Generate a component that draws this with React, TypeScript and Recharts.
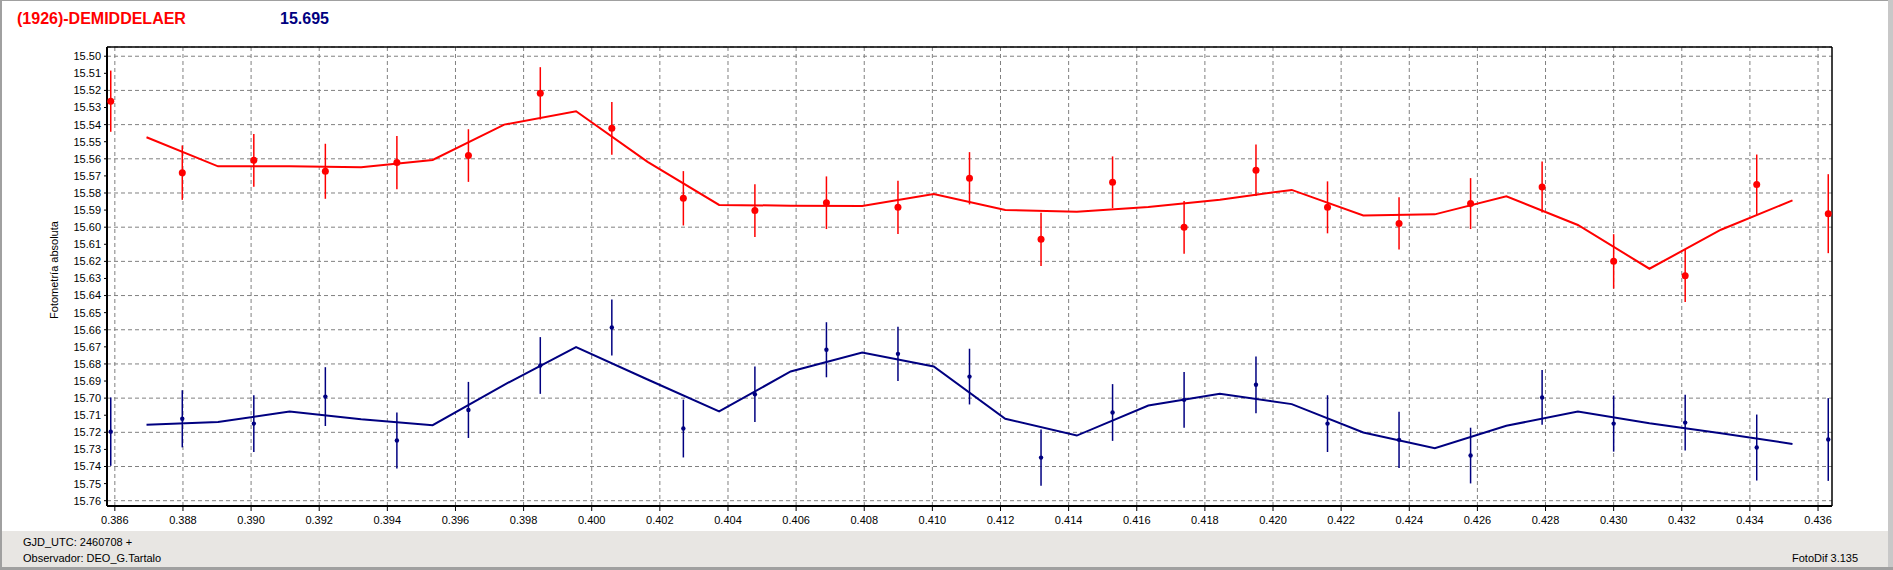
import React from 'react';
import {
  ComposedChart, XAxis, YAxis, CartesianGrid, Line, Scatter, ErrorBar, ReferenceLine,
} from 'recharts';

// ---- data ----
const pointX = [
  0.38588, 0.38798, 0.39008, 0.39218, 0.39428, 0.39638, 0.39849, 0.40059, 0.40269,
  0.40479, 0.40689, 0.40899, 0.41109, 0.41319, 0.41529, 0.41739, 0.41950, 0.42160,
  0.42370, 0.42580, 0.42790, 0.43000, 0.43210, 0.43420, 0.43630,
];
const redY = [
  15.5263, 15.5681, 15.5609, 15.5673, 15.5622, 15.5581, 15.5217, 15.5422, 15.5831,
  15.5903, 15.5857, 15.5884, 15.5714, 15.6071, 15.5737, 15.6001, 15.5667, 15.5884,
  15.5978, 15.5862, 15.5765, 15.6200, 15.6284, 15.5751, 15.5921,
];
const redErr = [
  0.0179, 0.0159, 0.0154, 0.0161, 0.0156, 0.0154, 0.0153, 0.0154, 0.0159,
  0.0154, 0.0154, 0.0156, 0.0153, 0.0156, 0.0151, 0.0154, 0.0151, 0.0152,
  0.0153, 0.0149, 0.0149, 0.0159, 0.0154, 0.0176, 0.0231,
];
const blueY = [
  15.7196, 15.7121, 15.7149, 15.6991, 15.7248, 15.7069, 15.6809, 15.6587, 15.7178,
  15.6977, 15.6717, 15.6741, 15.6874, 15.7348, 15.7084, 15.7010, 15.6922, 15.7149,
  15.7244, 15.7336, 15.6996, 15.7149, 15.7143, 15.7289, 15.7242,
];
const blueErr = [
  0.0200, 0.0167, 0.0166, 0.0172, 0.0164, 0.0164, 0.0166, 0.0164, 0.0169,
  0.0162, 0.0161, 0.0159, 0.0163, 0.0164, 0.0166, 0.0163, 0.0166, 0.0166,
  0.0164, 0.0163, 0.0160, 0.0164, 0.0163, 0.0193, 0.0242,
];
const curveX = [
  0.38693, 0.38903, 0.39113, 0.39323, 0.39533, 0.39743, 0.39954, 0.40164,
  0.40374, 0.40584, 0.40794, 0.41004, 0.41214, 0.41424, 0.41634, 0.41844,
  0.42055, 0.42265, 0.42475, 0.42685, 0.42895, 0.43105, 0.43315, 0.43525,
];
const redCurve = [
  15.5474, 15.5644, 15.5644, 15.5650, 15.5607, 15.5400, 15.5322, 15.5618,
  15.5870, 15.5874, 15.5876, 15.5806, 15.5899, 15.5909, 15.5882, 15.5839,
  15.5782, 15.5931, 15.5925, 15.5819, 15.5987, 15.6243, 15.6015, 15.5843,
];
const blueCurve = [
  15.7155, 15.7140, 15.7078, 15.7123, 15.7158, 15.6922, 15.6701, 15.6891,
  15.7078, 15.6844, 15.6733, 15.6815, 15.7121, 15.7219, 15.7043, 15.6975,
  15.7035, 15.7201, 15.7293, 15.7162, 15.7078, 15.7147, 15.7205, 15.7268,
];
const yTicks = [
  15.50, 15.51, 15.52, 15.53, 15.54, 15.55, 15.56, 15.57, 15.58, 15.59, 15.60,
  15.61, 15.62, 15.63, 15.64, 15.65, 15.66, 15.67, 15.68, 15.69, 15.70, 15.71,
  15.72, 15.73, 15.74, 15.75, 15.76,
];
const xTicks = [
  0.386, 0.388, 0.390, 0.392, 0.394, 0.396, 0.398, 0.400, 0.402, 0.404, 0.406,
  0.408, 0.410, 0.412, 0.414, 0.416, 0.418, 0.420, 0.422, 0.424, 0.426, 0.428,
  0.430, 0.432, 0.434, 0.436,
];
const xDomain: [number, number] = [0.38577, 0.43641];
const yDomain: [number, number] = [15.4946, 15.7631];

const titleName = '(1926)-DEMIDDELAER';
const titleMag = '15.695';
const yLabel = 'Fotometría absoluta';
const footer1 = 'GJD_UTC: 2460708 +';
const footer2 = 'Observador: DEO_G.Tartalo';
const footerRight = 'FotoDif 3.135';

const redPts = pointX.map((x, i) => ({ x, y: redY[i], err: redErr[i] }));
const bluePts = pointX.map((x, i) => ({ x, y: blueY[i], err: blueErr[i] }));
const redLine = curveX.map((x, i) => ({ x, y: redCurve[i] }));
const blueLine = curveX.map((x, i) => ({ x, y: blueCurve[i] }));

const FONT = '"Liberation Sans", Arial, sans-serif';

export default function App() {
  return (
    <div style={{ position: 'absolute', left: 0, top: 0, width: 1893, height: 570, background: '#fff', overflow: 'hidden', fontFamily: FONT }}>
      <ComposedChart width={1893} height={531} margin={{ top: 47, right: 61, bottom: 0, left: 0 }}>
        <CartesianGrid vertical={false} stroke="#808080" strokeDasharray="4 3" />
        {xTicks.map((v) => (
          <ReferenceLine key={'gx' + v} x={v} stroke="#808080" strokeDasharray="4 3" ifOverflow="visible" />
        ))}
        <XAxis
          type="number" dataKey="x" domain={xDomain} ticks={xTicks} allowDataOverflow
          height={25} tickSize={5} tickMargin={5}
          tick={{ fontSize: 11, fill: '#000', fontFamily: FONT }}
          tickFormatter={(v: number) => v.toFixed(3)}
          axisLine={{ stroke: '#000', strokeWidth: 2 }} tickLine={{ stroke: '#000' }}
        />
        <YAxis
          type="number" dataKey="y" domain={yDomain} ticks={yTicks} reversed allowDataOverflow
          width={107} tickSize={3} tickMargin={3}
          tick={{ fontSize: 11, fill: '#000', fontFamily: FONT }}
          tickFormatter={(v: number) => v.toFixed(2)}
          axisLine={{ stroke: '#000', strokeWidth: 2 }} tickLine={{ stroke: '#000' }}
        />
        <ReferenceLine y={yDomain[0]} stroke="#000" strokeWidth={1.5} ifOverflow="visible" />
        <ReferenceLine x={xDomain[1]} stroke="#000" strokeWidth={1.5} ifOverflow="visible" />
        <Line data={redLine} dataKey="y" type="linear" stroke="#ff0000" strokeWidth={2} dot={false} isAnimationActive={false} />
        <Line data={blueLine} dataKey="y" type="linear" stroke="#000080" strokeWidth={2} dot={false} isAnimationActive={false} />
        <Scatter data={redPts} dataKey="y" fill="#ff0000" isAnimationActive={false}
          shape={(p: any) => <circle cx={p.cx} cy={p.cy} r={3.5} fill="#ff0000" />}>
          <ErrorBar dataKey="err" direction="y" width={0} stroke="#ff0000" strokeWidth={1.5} isAnimationActive={false} />
        </Scatter>
        <Scatter data={bluePts} dataKey="y" fill="#000080" isAnimationActive={false}
          shape={(p: any) => <circle cx={p.cx} cy={p.cy} r={2.2} fill="#000080" />}>
          <ErrorBar dataKey="err" direction="y" width={0} stroke="#000080" strokeWidth={1.5} isAnimationActive={false} />
        </Scatter>
      </ComposedChart>

      <div style={{ position: 'absolute', left: 17, top: 10, fontSize: 16, fontWeight: 'bold', color: '#ff0000', whiteSpace: 'nowrap' }}>{titleName}</div>
      <div style={{ position: 'absolute', left: 280, top: 10, fontSize: 16, fontWeight: 'bold', color: '#000080', whiteSpace: 'nowrap' }}>{titleMag}</div>

      <div style={{ position: 'absolute', left: 54, top: 270, width: 0, height: 0 }}>
        <div style={{ position: 'absolute', left: 0, top: 0, transform: 'translate(-50%, -50%) rotate(-90deg)', fontSize: 11, color: '#000', whiteSpace: 'nowrap' }}>{yLabel}</div>
      </div>

      <div style={{ position: 'absolute', left: 0, top: 531, width: 1893, height: 39, background: '#e8e6e3' }}>
        <div style={{ position: 'absolute', left: 23, top: 5, fontSize: 11, color: '#000', whiteSpace: 'nowrap' }}>{footer1}</div>
        <div style={{ position: 'absolute', left: 23, top: 21, fontSize: 11, color: '#000', whiteSpace: 'nowrap' }}>{footer2}</div>
        <div style={{ position: 'absolute', left: 1792, top: 21, fontSize: 11, color: '#000', whiteSpace: 'nowrap' }}>{footerRight}</div>
      </div>

      <div style={{ position: 'absolute', left: 0, top: 0, width: 2, height: 570, background: '#a0a0a0' }} />
      <div style={{ position: 'absolute', left: 0, top: 0, width: 1893, height: 1, background: '#a0a0a0' }} />
      <div style={{ position: 'absolute', left: 1888, top: 0, width: 5, height: 570, background: '#c8c8c8' }} />
      <div style={{ position: 'absolute', left: 0, top: 567, width: 1893, height: 3, background: '#a0a0a0' }} />
    </div>
  );
}
